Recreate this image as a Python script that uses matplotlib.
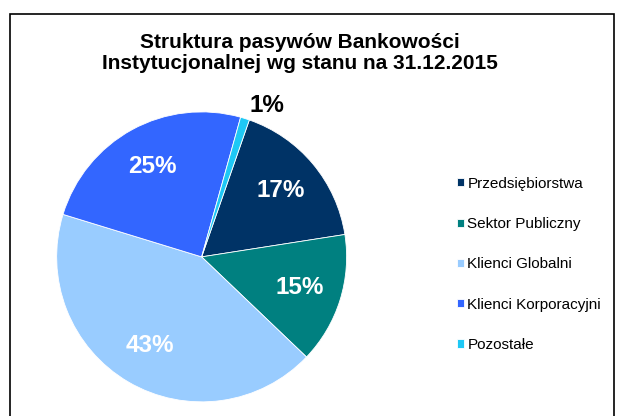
import numpy as np
import matplotlib
matplotlib.use('Agg')
import matplotlib.pyplot as plt
from matplotlib.patches import Rectangle

plt.rcParams['font.family'] = ['Liberation Sans', 'DejaVu Sans']

# data (percent of total)
labels = ['Przedsiębiorstwa', 'Sektor Publiczny', 'Klienci Globalni',
          'Klienci Korporacyjni', 'Pozostałe']
values = [17.2, 14.6, 42.6, 24.6, 1.0]
colors = ['#003366', '#008080', '#99CCFF', '#3366FF', '#1EC8F5']
title = 'Struktura pasywów Bankowości\nInstytucjonalnej wg stanu na 31.12.2015'

fig = plt.figure(figsize=(6.19, 4.16), dpi=100)

# thin frame around the chart area (cut off at the bottom)
fig.patches.append(Rectangle((10/619, -0.05), 604/619, 1.05 - 14/416,
                             transform=fig.transFigure, fill=False,
                             edgecolor='black', linewidth=1.2))

ax = fig.add_axes([0.0915, 0.034, 0.4685, 0.697])
wedges, texts, autotexts = ax.pie(values, colors=colors, startangle=70.8,
                                  counterclock=False, autopct='%.0f%%',
                                  pctdistance=0.71,
                                  wedgeprops=dict(edgecolor='white', linewidth=0.6),
                                  textprops=dict(color='white', fontsize=17.5,
                                                 fontweight='bold'))
ax.set_xlim(-1, 1)
ax.set_ylim(-1, 1)
ax.set_aspect('equal')

# tiny slice gets its label outside, in black
for w, t in zip(wedges, autotexts):
    if w.theta2 - w.theta1 < 10:
        ang = np.deg2rad((w.theta1 + w.theta2) / 2 - 6)
        t.set_position((1.14 * np.cos(ang), 1.14 * np.sin(ang)))
        t.set_color('black')

fig.text(0.485, 0.872, title, ha='center', va='center', fontsize=15,
         fontweight='bold', linespacing=1.15)

fig.legend(wedges, labels, loc='upper left', bbox_to_anchor=(0.739, 0.575),
           frameon=False, fontsize=11, handlelength=0.45, handleheight=0.45,
           handletextpad=0.2, labelspacing=1.72, borderpad=0, borderaxespad=0)

fig.savefig('out.png', dpi=100)
